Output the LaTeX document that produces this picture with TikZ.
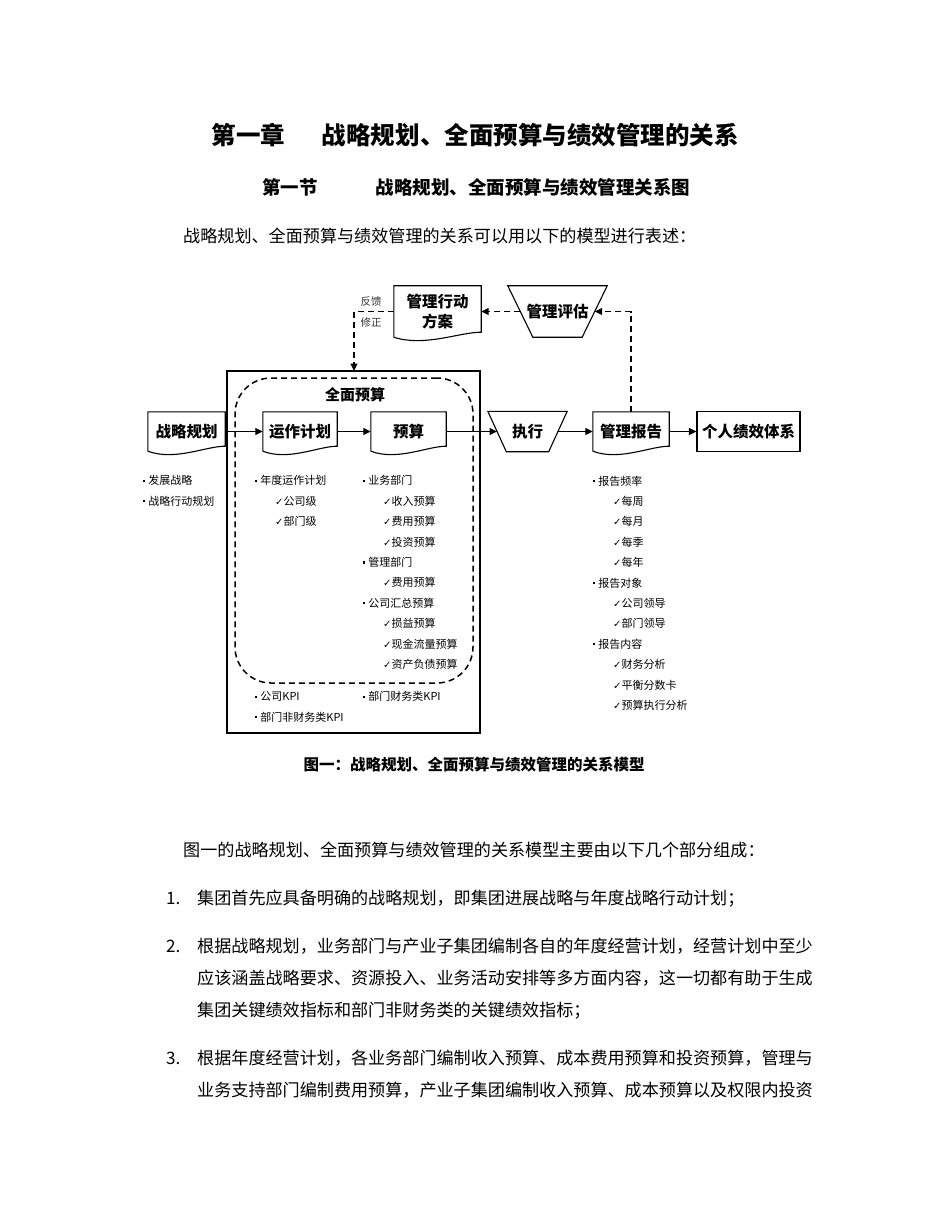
\documentclass[tikz,border=0pt]{standalone}
\usepackage{fontspec}
\setmainfont{Noto Sans CJK SC}
\newfontfamily\symfont{DejaVu Sans}
\usepackage{tikz}
\usetikzlibrary{positioning, calc, arrows.meta}

% small square bullet and indented check mark for the lists
\newcommand{\bul}{\rule[3pt]{2.2pt}{2.2pt}\hspace{3pt}}
\newcommand{\chk}{\hspace*{20pt}{\symfont\fontsize{10}{10}\selectfont ✓}}

\begin{document}
\begin{tikzpicture}[
    x=1pt, y=-1pt,
    >={Triangle[length=7.5pt, width=7pt]},
    %% ── Box styles ──
    docbox/.style={rectangle, minimum height=39pt, inner sep=2pt,
        align=center, font=\fontsize{15.5}{20}\selectfont\bfseries},
    plainbox/.style={docbox, draw, line width=1.1pt},
    funnel/.style={docbox, minimum height=40pt},
    %% ── Arrow styles ──
    flow/.style={->, line width=1.2pt},
    dflow/.style={->, line width=1.5pt, dash pattern=on 6pt off 4pt},
    %% ── Text styles ──
    itemlist/.style={anchor=north west, align=left, inner sep=0pt,
        font=\fontsize{11}{20.4}\selectfont},
    bodyline/.style={anchor=base west, inner sep=0pt,
        font=\fontsize{17.1}{17.1}\selectfont},
]

\fill[white] (0,0) rectangle (950,1230);
\useasboundingbox (0,0) rectangle (950,1230);

% ── Page headings ──
\node[anchor=base, inner sep=0pt, font=\fontsize{24.5}{24.5}\selectfont\bfseries]
    (title) at (475,145) {第一章\hspace{37pt}战略规划、全面预算与绩效管理的关系};
\node[anchor=base, inner sep=0pt, font=\fontsize{18.5}{18.5}\selectfont\bfseries]
    (section) at (476,195) {第一节\hspace{58pt}战略规划、全面预算与绩效管理关系图};
\node[bodyline] (intro) at (183,242.5) {战略规划、全面预算与绩效管理的关系可以用以下的模型进行表述：};

% ── Outer frame and dashed budget area ──
\node[draw, line width=1.5pt, minimum width=253pt, minimum height=362pt,
    inner sep=0pt] (total) at (353.5,552) {};
\node[draw, line width=1.5pt, dash pattern=on 6pt off 4pt, rounded corners=36pt,
    minimum width=238pt, minimum height=305pt, inner sep=0pt] (area) at (354,530.5) {};
\node[font=\fontsize{15}{15}\selectfont\bfseries] (areatitle) at (355,395) {全面预算};

% ── Main row ──
\node[docbox, minimum width=77pt] (strat)  at (186.5,431.5) {战略规划};
\node[docbox, minimum width=74pt] (ops)    at (300,431.5)   {运作计划};
\node[docbox, minimum width=75pt] (budget) at (408.5,431.5) {预算};
\node[funnel, minimum width=79pt] (exec)   at (527.5,431.5) {执行};
\node[docbox, minimum width=76pt] (report) at (631,431.5)   {管理报告};
\node[plainbox, minimum width=103pt, minimum height=40pt] (perf) at (748.5,431.5) {个人绩效体系};

% ── Feedback row ──
\node[docbox, minimum width=87pt, minimum height=51pt] (action) at (437.5,311.5) {管理行动\\方案};
\node[funnel, minimum width=99pt, minimum height=51pt] (eval) at (557.5,311.5) {管理评估};
\node[align=center, inner sep=0pt, text=black!80,
    font=\fontsize{10.5}{21}\selectfont] (fbnote) at (371,312.5) {反馈\\修正};
\coordinate (fbin) at (354,371);

% wavy-bottom outline of the document boxes
\foreach \n in {strat, ops, budget, report, action}
  \draw[line width=1.1pt] (\n.south west) -- (\n.north west) -- (\n.north east)
    -- ($(\n.south east)+(0,-5)$)
    .. controls ($(\n.south west)!0.75!(\n.south east)+(0,-5)$)
    and ($(\n.south west)!0.35!(\n.south east)+(0,10)$) .. (\n.south west);

% funnel outlines (wide top, narrow bottom)
\foreach \n/\d in {exec/18.5, eval/25}
  \draw[line width=1.1pt] (\n.north west) -- (\n.north east)
    -- ($(\n.south east)+(-\d,0)$) -- ($(\n.south west)+(\d,0)$) -- cycle;

% Solid flow
\draw[flow] (strat)  -- (ops);
\draw[flow] (ops)    -- (budget);
\draw[flow] (budget) -- ($(exec.west)+(9.25,0)$);
\draw[flow] ($(exec.east)+(-9.25,0)$) -- (report);
\draw[flow] (report) -- (perf);

% Dashed feedback loop
\draw[dflow] (report.north) |- ($(eval.east)+(-12.5,0)$);
\draw[dflow] ($(eval.west)+(12.5,0)$) -- (action);
\draw[dflow] (action.west) -| (fbin);

% ── Lists under the boxes ──
\node[itemlist] (stratlist) at (143,475.5) {\bul 发展战略\\\bul 战略行动规划};
\node[itemlist] (opslist) at (255,475.5) {\bul 年度运作计划\\\chk 公司级\\\chk 部门级};
\node[itemlist] (budgetlist) at (363,475.5) {\bul 业务部门\\\chk 收入预算\\\chk 费用预算\\
    \chk 投资预算\\\bul 管理部门\\\chk 费用预算\\\bul 公司汇总预算\\\chk 损益预算\\
    \chk 现金流量预算\\\chk 资产负债预算};
\node[itemlist] (kpileft) at (255,691.5) {\bul 公司KPI\\\bul 部门非财务类KPI};
\node[itemlist] (kpiright) at (363,691.5) {\bul 部门财务类KPI};
\node[itemlist] (reportlist) at (593,475.5) {\bul 报告频率\\\chk 每周\\\chk 每月\\\chk 每季\\
    \chk 每年\\\bul 报告对象\\\chk 公司领导\\\chk 部门领导\\\bul 报告内容\\
    \chk 财务分析\\\chk 平衡分数卡\\\chk 预算执行分析};

% ── Caption ──
\node[inner sep=0pt, font=\fontsize{15.5}{15.5}\selectfont\bfseries] (caption) at (474,765)
    {图一：战略规划、全面预算与绩效管理的关系模型};

% ── Body text ──
\node[bodyline] (para) at (183,856.5) {图一的战略规划、全面预算与绩效管理的关系模型主要由以下几个部分组成：};
\node[bodyline] (num1) at (166,904.5) {1.};
\node[bodyline] (item1) at (197,904.5) {集团首先应具备明确的战略规划，即集团进展战略与年度战略行动计划；};
\node[bodyline] (num2) at (166,952.5) {2.};
\node[bodyline] (item2a) at (197,952.5) {根据战略规划，业务部门与产业子集团编制各自的年度经营计划，经营计划中至少};
\node[bodyline] (item2b) at (197,984.5) {应该涵盖战略要求、资源投入、业务活动安排等多方面内容，这一切都有助于生成};
\node[bodyline] (item2c) at (197,1016.5) {集团关键绩效指标和部门非财务类的关键绩效指标；};
\node[bodyline] (num3) at (166,1064.5) {3.};
\node[bodyline] (item3a) at (197,1064.5) {根据年度经营计划，各业务部门编制收入预算、成本费用预算和投资预算，管理与};
\node[bodyline] (item3b) at (197,1096.5) {业务支持部门编制费用预算，产业子集团编制收入预算、成本预算以及权限内投资};

\end{tikzpicture}
\end{document}
